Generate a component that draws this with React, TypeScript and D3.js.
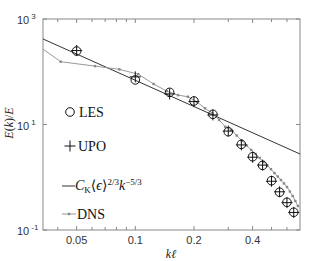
import * as d3 from "d3";
import { useEffect, useRef } from "react";

// LES and UPO spectra, sampled at kl = 0.05 ... 0.65
const lesK = [0.05, 0.1, 0.15, 0.2, 0.25, 0.3, 0.35, 0.4, 0.45, 0.5, 0.55, 0.6, 0.65];
const lesE = [247, 70, 40.7, 27.9, 15.6, 7.3, 4.2, 2.45, 1.68, 0.86, 0.52, 0.335, 0.217];
const upoE = [252, 80, 38, 27.2, 15.2, 7.5, 4.1, 2.4, 1.7, 0.84, 0.53, 0.33, 0.215];

// DNS spectrum
const dnsK = [
  0.0207, 0.0414, 0.0621, 0.0828, 0.1035, 0.1242, 0.1449, 0.1656, 0.1863, 0.207, 0.2277,
  0.2484, 0.2691, 0.2898, 0.3105, 0.3312, 0.3519, 0.3726, 0.3933, 0.414, 0.4347, 0.4554,
  0.4761, 0.4968, 0.5175, 0.5382, 0.5589, 0.5796, 0.6003, 0.621, 0.6417, 0.6624, 0.6831,
];
const dnsE = [
  960, 155, 128, 111, 90, 58.6, 43, 36, 33.6, 26.8, 20.3, 16.5, 12.2, 9.0, 7.87, 6.19, 4.98,
  4.0, 3.29, 2.76, 2.32, 1.95, 1.65, 1.42, 1.2, 1.03, 0.887, 0.762, 0.654, 0.537, 0.441,
  0.355, 0.285,
];

// Kolmogorov -5/3 line, end points
const k41K = [0.0336, 0.7];
const k41E = [418, 2.76];

const xMajor = [0.05, 0.1, 0.2, 0.4];
const xMinor = [0.04, 0.06, 0.07, 0.08, 0.09, 0.3, 0.5, 0.6];
const yTicks = [0.1, 10, 1000];
const yExp = ["-1", "1", "3"];

const App = () => {
  const ref = useRef<SVGSVGElement>(null);

  useEffect(() => {
    const svg = d3.select(ref.current);
    svg.selectAll("*").remove();

    const width = 332;
    const height = 261;
    const left = 43, right = 300, top = 19, bottom = 230;
    svg.attr("width", width).attr("height", height);

    const x = d3.scaleLog().domain([0.0336, 0.7]).range([left, right]);
    const y = d3.scaleLog().domain([0.1, 1000]).range([bottom, top]);

    svg.append("rect").attr("width", width).attr("height", height).attr("fill", "#fff");

    svg
      .append("clipPath")
      .attr("id", "plotclip")
      .append("rect")
      .attr("x", left)
      .attr("y", top)
      .attr("width", right - left)
      .attr("height", bottom - top);

    const sans = "Liberation Sans, Arial, sans-serif";
    const serif = "Liberation Serif, Times New Roman, DejaVu Serif, serif";

    // frame
    svg
      .append("rect")
      .attr("x", left)
      .attr("y", top)
      .attr("width", right - left)
      .attr("height", bottom - top)
      .attr("fill", "none")
      .attr("stroke", "#888")
      .attr("stroke-width", 1);

    // x ticks, inward on bottom and top
    const ticks = svg.append("g").attr("stroke", "#888").attr("stroke-width", 1);
    [...xMajor, ...xMinor].forEach((t) => {
      const len = xMajor.includes(t) ? 4 : 3;
      ticks.append("line").attr("x1", x(t)).attr("x2", x(t)).attr("y1", bottom).attr("y2", bottom - len);
      ticks.append("line").attr("x1", x(t)).attr("x2", x(t)).attr("y1", top).attr("y2", top + len);
    });
    yTicks.forEach((t) => {
      ticks.append("line").attr("x1", left).attr("x2", left + 4).attr("y1", y(t)).attr("y2", y(t));
      ticks.append("line").attr("x1", right).attr("x2", right - 4).attr("y1", y(t)).attr("y2", y(t));
    });

    // x tick labels
    svg
      .append("g")
      .selectAll("text")
      .data(xMajor)
      .join("text")
      .attr("x", (d) => x(d))
      .attr("y", bottom + 14)
      .attr("text-anchor", "middle")
      .style("font-family", sans)
      .style("font-size", "11px")
      .attr("fill", "#333")
      .text((d) => String(d));

    // y tick labels 10^n
    yTicks.forEach((t, i) => {
      const tx = svg
        .append("text")
        .attr("x", 17)
        .attr("y", y(t) + 5)
        .style("font-family", sans)
        .style("font-size", "11px")
        .attr("fill", "#333");
      tx.append("tspan").text("10");
      tx.append("tspan").attr("dx", 2).attr("dy", -5).style("font-size", "8px").text(yExp[i]);
    });

    // axis titles
    const yl = svg
      .append("text")
      .attr("transform", `translate(13, 123) rotate(-90)`)
      .attr("text-anchor", "middle")
      .style("font-family", serif)
      .style("font-size", "12px")
      .attr("fill", "#222");
    yl.append("tspan").style("font-style", "italic").text("E");
    yl.append("tspan").text("(");
    yl.append("tspan").style("font-style", "italic").text("k");
    yl.append("tspan").text(")/");
    yl.append("tspan").style("font-style", "italic").text("E");

    svg
      .append("text")
      .attr("x", 171)
      .attr("y", 258)
      .attr("text-anchor", "middle")
      .style("font-family", serif)
      .style("font-style", "italic")
      .style("font-size", "12px")
      .attr("fill", "#222")
      .text("kℓ");

    const plot = svg.append("g").attr("clip-path", "url(#plotclip)");

    // Kolmogorov line
    const line = d3
      .line<number>()
      .x((d) => x(d))
      .y((d, i) => y(k41E[i]));
    plot
      .append("path")
      .attr("d", line(k41K))
      .attr("fill", "none")
      .attr("stroke", "#333")
      .attr("stroke-width", 1);

    // DNS
    const dnsLine = d3
      .line<number>()
      .x((d) => x(d))
      .y((d, i) => y(dnsE[i]));
    plot
      .append("path")
      .attr("d", dnsLine(dnsK))
      .attr("fill", "none")
      .attr("stroke", "#999")
      .attr("stroke-width", 1);
    plot
      .selectAll("rect.dns")
      .data(dnsK)
      .join("rect")
      .attr("class", "dns")
      .attr("x", (d) => x(d) - 1.2)
      .attr("y", (d, i) => y(dnsE[i]) - 1.2)
      .attr("width", 2.4)
      .attr("height", 2.4)
      .attr("fill", "#888");

    // LES circles
    plot
      .selectAll("circle.les")
      .data(lesK)
      .join("circle")
      .attr("class", "les")
      .attr("cx", (d) => x(d))
      .attr("cy", (d, i) => y(lesE[i]))
      .attr("r", 4.3)
      .attr("fill", "none")
      .attr("stroke", "#111")
      .attr("stroke-width", 1);

    // UPO plus
    const plusPath = (cx: number, cy: number, s: number) =>
      `M${cx - s},${cy}H${cx + s}M${cx},${cy - s}V${cy + s}`;
    plot
      .selectAll("path.upo")
      .data(lesK)
      .join("path")
      .attr("class", "upo")
      .attr("d", (d, i) => plusPath(x(d), y(upoE[i]), 5.5))
      .attr("fill", "none")
      .attr("stroke", "#111")
      .attr("stroke-width", 1);

    // legend
    const lg = svg
      .append("g")
      .style("font-family", serif)
      .style("font-size", "14px")
      .attr("fill", "#111");
    lg.append("circle").attr("cx", 70).attr("cy", 112).attr("r", 4.3).attr("fill", "none").attr("stroke", "#111");
    lg.append("text").attr("x", 79).attr("y", 117).text("LES");

    lg.append("path").attr("d", plusPath(70, 146, 5.5)).attr("stroke", "#111").attr("fill", "none");
    lg.append("text").attr("x", 78).attr("y", 151).text("UPO");

    lg.append("line").attr("x1", 62).attr("x2", 75).attr("y1", 186).attr("y2", 186).attr("stroke", "#333");
    const kt = lg.append("text").attr("x", 75).attr("y", 190);
    kt.append("tspan").style("font-style", "italic").text("C");
    kt.append("tspan").style("font-size", "9px").attr("dy", 3).text("K");
    kt.append("tspan").attr("dy", -3).text("⟨");
    kt.append("tspan").style("font-style", "italic").text("ϵ");
    kt.append("tspan").text("⟩");
    kt.append("tspan").style("font-size", "9px").attr("dy", -5).text("2/3");
    kt.append("tspan").style("font-style", "italic").attr("dy", 5).text("k");
    kt.append("tspan").style("font-size", "9px").attr("dy", -5).text("−5/3");

    lg.append("line").attr("x1", 62).attr("x2", 76).attr("y1", 214).attr("y2", 214).attr("stroke", "#999");
    lg.append("rect").attr("x", 67.8).attr("y", 212.8).attr("width", 2.4).attr("height", 2.4).attr("fill", "#888");
    lg.append("text").attr("x", 77).attr("y", 219).text("DNS");
  }, []);

  return (
    <svg ref={ref} style={{ position: "absolute", left: 0, top: 0, display: "block" }}></svg>
  );
};

export default App;
